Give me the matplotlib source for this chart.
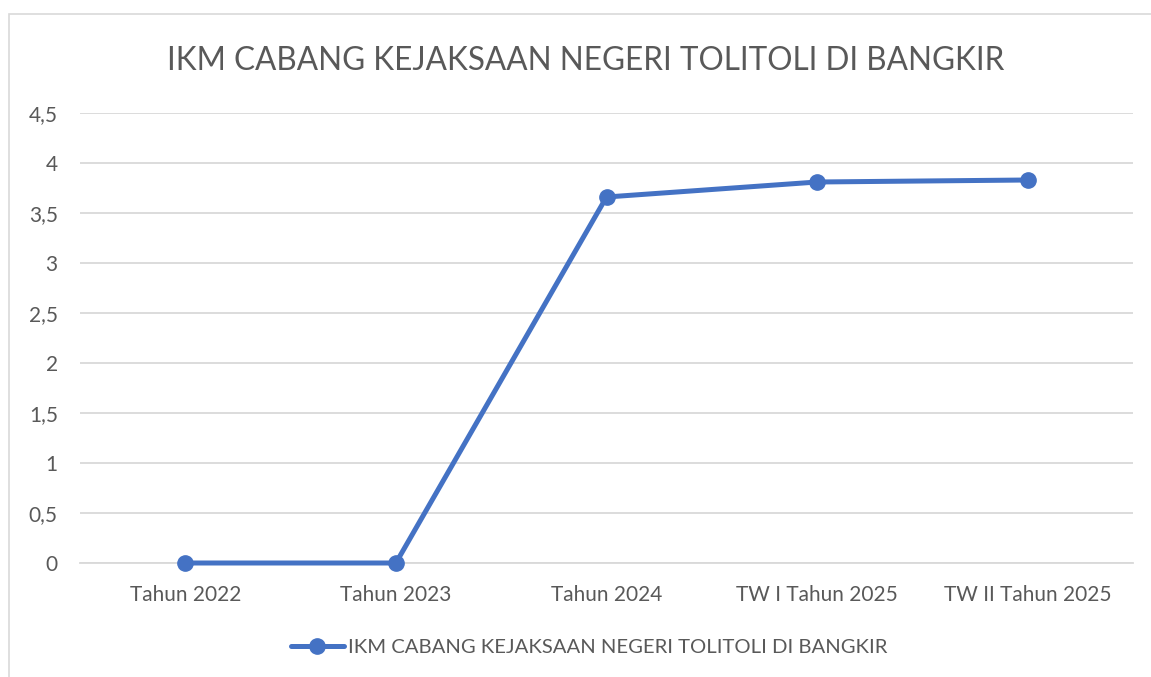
import matplotlib.pyplot as plt
from matplotlib.patches import Rectangle
from matplotlib.ticker import FuncFormatter

plt.rcParams['font.family'] = ['Lato', 'DejaVu Sans']

# data
categories = ['Tahun 2022', 'Tahun 2023', 'Tahun 2024', 'TW I Tahun 2025', 'TW II Tahun 2025']
ikm_values = [0, 0, 3.66, 3.81, 3.83]
series_name = 'IKM CABANG KEJAKSAAN NEGERI TOLITOLI DI BANGKIR'

blue = '#4472C4'
grey_text = '#595959'
grid_grey = '#D9D9D9'

fig = plt.figure(figsize=(11.51, 6.77), dpi=100)

# chart frame (Excel chart area border)
fig.patches.append(Rectangle((9 / 1151, -0.1), 1.2, 1 - 14 / 677 + 0.1,
                             transform=fig.transFigure, fill=False,
                             edgecolor=grid_grey, linewidth=1.2))

ax = fig.add_axes([80 / 1151, 1 - 563 / 677, (1133 - 80) / 1151, (563 - 113) / 677])
x = range(len(categories))
ax.plot(x, ikm_values, color=blue, linewidth=3.6, marker='o', markersize=11,
        solid_capstyle='round', label=series_name, clip_on=False, zorder=3)

ax.set_xlim(-0.5, len(categories) - 0.5)
ax.set_ylim(0, 4.5)
ax.set_yticks([i * 0.5 for i in range(10)])
ax.yaxis.set_major_formatter(FuncFormatter(lambda v, p: f'{v:g}'.replace('.', ',')))
ax.set_xticks(list(x))
ax.set_xticklabels(categories)

ax.grid(axis='y', color=grid_grey, linewidth=1.3)
ax.set_axisbelow(True)
for s in ['top', 'right', 'left']:
    ax.spines[s].set_visible(False)
ax.spines['bottom'].set_color(grid_grey)
ax.spines['bottom'].set_linewidth(1.3)
ax.tick_params(axis='both', length=0, labelsize=15, colors=grey_text)
ax.tick_params(axis='x', pad=16)
ax.tick_params(axis='y', pad=16)

fig.text(0.509, 1 - 61 / 677, series_name, ha='center', va='center',
         fontsize=22.7, color=grey_text)

leg = fig.legend(loc='center', bbox_to_anchor=(589 / 1151, 1 - 647 / 677),
                 frameon=False, fontsize=14.6, handlelength=2.6, handletextpad=0.2)
for t in leg.get_texts():
    t.set_color(grey_text)

fig.savefig('out.png', dpi=100)
